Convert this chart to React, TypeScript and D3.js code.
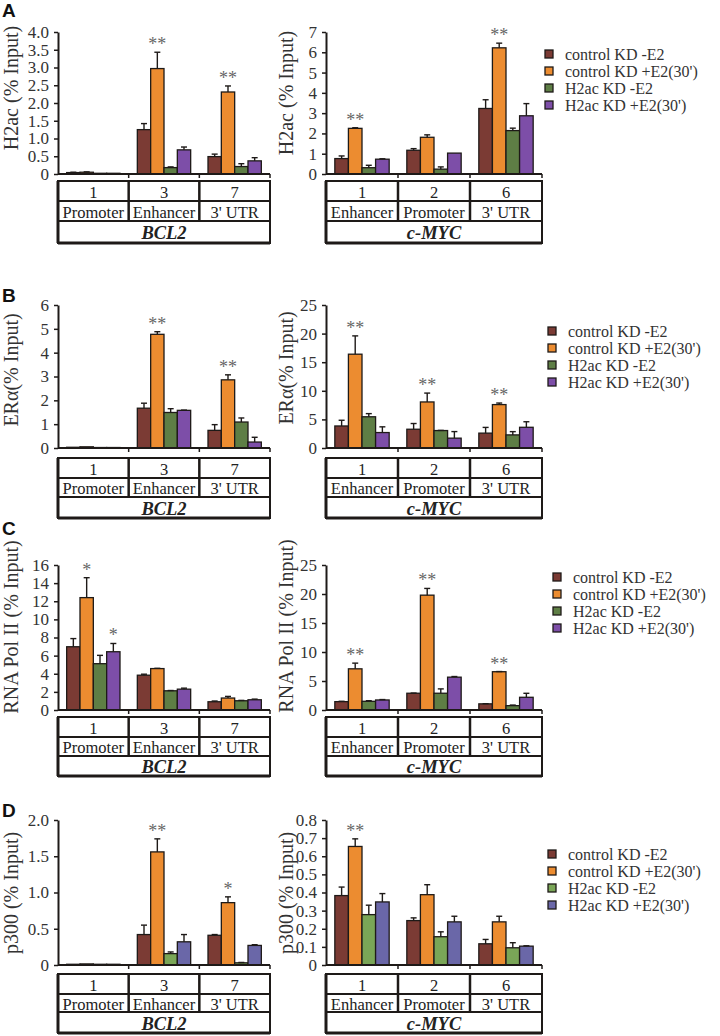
import React, { useEffect, useRef } from "react";
import * as d3 from "d3";

const series = ["control KD -E2", "control KD +E2(30')", "H2ac KD -E2", "H2ac KD +E2(30')"];

const bcl2Sites = ["1", "3", "7"];
const bcl2Regions = ["Promoter", "Enhancer", "3' UTR"];
const mycSites = ["1", "2", "6"];
const mycRegions = ["Enhancer", "Promoter", "3' UTR"];

// A: H2ac
const h2acBcl2 = [[0.04, 0.05, 0.02, 0.02], [1.25, 2.97, 0.18, 0.68], [0.49, 2.31, 0.21, 0.37]];
const h2acBcl2Sd = [[0.01, 0.01, 0, 0], [0.17, 0.46, 0.02, 0.08], [0.07, 0.17, 0.08, 0.09]];
const h2acBcl2Stars = [["", "", "", ""], ["", "**", "", ""], ["", "**", "", ""]];
const h2acMyc = [[0.76, 2.25, 0.31, 0.73], [1.17, 1.81, 0.24, 1.03], [3.23, 6.22, 2.14, 2.87]];
const h2acMycSd = [[0.13, 0.03, 0.12, 0.02], [0.08, 0.12, 0.11, 0], [0.43, 0.23, 0.12, 0.6]];
const h2acMycStars = [["", "**", "", ""], ["", "", "", ""], ["", "**", "", ""]];
const h2acBcl2Ticks = [0, 0.5, 1, 1.5, 2, 2.5, 3, 3.5, 4];
const h2acMycTicks = [0, 1, 2, 3, 4, 5, 6, 7];

// B: ERalpha
const eraBcl2 = [[0.03, 0.05, 0.02, 0.02], [1.67, 4.77, 1.49, 1.58], [0.74, 2.86, 1.09, 0.25]];
const eraBcl2Sd = [[0, 0, 0, 0], [0.21, 0.11, 0.16, 0.01], [0.24, 0.21, 0.17, 0.2]];
const eraBcl2Stars = [["", "", "", ""], ["", "**", "", ""], ["", "**", "", ""]];
const eraMyc = [[3.85, 16.4, 5.46, 2.7], [3.28, 8.05, 3.05, 1.72], [2.6, 7.59, 2.29, 3.62]];
const eraMycSd = [[1.0, 3.2, 0.55, 1.0], [1.0, 1.55, 0.03, 1.15], [1.0, 0.27, 0.57, 0.97]];
const eraMycStars = [["", "**", "", ""], ["", "**", "", ""], ["", "**", "", ""]];
const eraBcl2Ticks = [0, 1, 2, 3, 4, 5, 6];
const eraMycTicks = [0, 5, 10, 15, 20, 25];

// C: RNA Pol II
const polBcl2 = [[6.98, 12.4, 5.11, 6.43], [3.84, 4.57, 2.12, 2.3], [0.91, 1.32, 1.02, 1.13]];
const polBcl2Sd = [[0.9, 2.2, 0.92, 0.91], [0.11, 0.03, 0.03, 0.11], [0.08, 0.18, 0.04, 0.07]];
const polBcl2Stars = [["", "*", "", "*"], ["", "", "", ""], ["", "", "", ""]];
const polMyc = [[1.44, 7.1, 1.5, 1.73], [2.89, 19.8, 2.89, 5.66], [1.06, 6.6, 0.75, 2.19]];
const polMycSd = [[0.06, 0.98, 0.1, 0.07], [0.03, 1.16, 0.75, 0.11], [0.03, 0.03, 0.1, 0.69]];
const polMycStars = [["", "**", "", ""], ["", "**", "", ""], ["", "**", "", ""]];
const polBcl2Ticks = [0, 2, 4, 6, 8, 10, 12, 14, 16];
const polMycTicks = [0, 5, 10, 15, 20, 25];

// D: p300
const p300Bcl2 = [[0.01, 0.015, 0.01, 0.01], [0.42, 1.56, 0.157, 0.32], [0.41, 0.86, 0.03, 0.27]];
const p300Bcl2Sd = [[0, 0, 0, 0], [0.13, 0.18, 0.023, 0.1], [0.01, 0.08, 0.005, 0.01]];
const p300Bcl2Stars = [["", "", "", ""], ["", "**", "", ""], ["", "*", "", ""]];
const p300Myc = [[0.383, 0.654, 0.278, 0.348], [0.245, 0.388, 0.156, 0.238], [0.117, 0.238, 0.095, 0.104]];
const p300MycSd = [[0.047, 0.042, 0.052, 0.046], [0.015, 0.055, 0.027, 0.031], [0.024, 0.031, 0.028, 0.002]];
const p300MycStars = [["", "**", "", ""], ["", "", "", ""], ["", "", "", ""]];
const p300Bcl2Ticks = [0, 0.5, 1, 1.5, 2];
const p300MycTicks = [0, 0.1, 0.2, 0.3, 0.4, 0.5, 0.6, 0.7, 0.8];

const colorsABC = ["#7b3b34", "#ec8c30", "#5e7e45", "#7d4ea8"];
const colorsD = ["#7b3b34", "#ec8c30", "#7aa657", "#6a67a8"];

const serif = "'Liberation Serif', 'Times New Roman', serif";
const sans = "'Liberation Sans', Arial, sans-serif";
const ink = "#1e1a18";

const fmt1 = (d: number) => (d === 0 ? "0" : d.toFixed(1));
const fmt0 = (d: number) => String(d);

function YAxis({ scale, ticks, fmt, x }: any) {
  const ref = useRef<SVGGElement>(null);
  useEffect(() => {
    const g = d3.select(ref.current);
    g.call(
      d3.axisLeft(scale).tickValues(ticks).tickFormat(fmt).tickSize(4).tickSizeOuter(0).tickPadding(5) as any
    );
    g.attr("font-family", null).attr("font-size", null);
    g.select(".domain").attr("stroke", ink).attr("stroke-width", 2);
    g.selectAll(".tick line").attr("stroke", ink).attr("stroke-width", 1.5);
    g.selectAll(".tick text")
      .attr("font-family", serif)
      .attr("font-size", 17)
      .attr("fill", "#333");
  });
  return <g ref={ref} transform={`translate(${x},0)`} />;
}

function Panel(p: any) {
  const { x0, width, top, zero, rows, sites, regions, gene, means, sds, stars, ticks, fmt, ylabel, lx, ly, colors } = p;
  const y = d3.scaleLinear().domain([0, ticks[ticks.length - 1]]).range([zero, top]);
  const xc = d3.scaleBand().domain(sites).range([x0, x0 + width]);
  const xs = d3.scaleBand().domain(series).range([0, xc.bandwidth()]).paddingOuter(0.65);
  const bw = xs.bandwidth();
  const bounds = sites.map((s: string) => (xc(s) as number) + xc.bandwidth());
  return (
    <g>
      <text
        transform={`translate(${lx},${ly}) rotate(-90)`}
        textAnchor="middle"
        dominantBaseline="central"
        fontFamily={serif}
        fontSize={20}
        fill="#333"
      >
        {ylabel}
      </text>
      {sites.map((s: string, i: number) =>
        series.map((sr, j) => {
          const v = means[i][j];
          const e = sds[i][j];
          const bx = (xc(s) as number) + (xs(sr) as number);
          const cx = bx + bw / 2;
          const yt = y(v);
          const ye = y(v + e);
          return (
            <g key={s + j}>
              <rect x={bx} y={yt} width={bw} height={zero - yt} fill={colors[j]} stroke={ink} strokeWidth={1.3} />
              {e > 0 && (
                <g stroke={ink} strokeWidth={1.4}>
                  <line x1={cx} x2={cx} y1={yt} y2={ye} />
                  <line x1={cx - 3} x2={cx + 3} y1={ye} y2={ye} />
                </g>
              )}
              {stars[i][j] && (
                <text x={cx} y={ye - 2} textAnchor="middle" fontFamily={serif} fontSize={18} fill="#666">
                  {stars[i][j]}
                </text>
              )}
            </g>
          );
        })
      )}
      <line x1={x0} x2={x0 + width} y1={zero} y2={zero} stroke={ink} strokeWidth={2} />
      {bounds.map((b: number) => (
        <line key={b} x1={b} x2={b} y1={zero} y2={zero + 4} stroke={ink} strokeWidth={1.5} />
      ))}
      <YAxis scale={y} ticks={ticks} fmt={fmt} x={x0} />
      {/* table */}
      <g stroke={ink} fill="none">
        <rect x={x0} y={rows[0]} width={width} height={rows[3] - rows[0]} strokeWidth={2} />
        <line x1={x0} x2={x0} y1={rows[0]} y2={rows[3]} strokeWidth={3} />
        <line x1={x0} x2={x0 + width} y1={rows[3]} y2={rows[3]} strokeWidth={3} />
        <line x1={x0} x2={x0 + width} y1={rows[1]} y2={rows[1]} strokeWidth={2} />
        <line x1={x0} x2={x0 + width} y1={rows[2]} y2={rows[2]} strokeWidth={2} />
        {bounds.slice(0, -1).map((b: number) => (
          <line key={b} x1={b} x2={b} y1={rows[0]} y2={rows[2]} strokeWidth={2.5} />
        ))}
      </g>
      {sites.map((s: string, i: number) => {
        const cx = (xc(s) as number) + xc.bandwidth() / 2;
        return (
          <g key={"t" + s} fontFamily={serif} fontSize={16.5} fill="#222" textAnchor="middle">
            <text x={cx} y={(rows[0] + rows[1]) / 2 + 1} dominantBaseline="central">{s}</text>
            <text x={cx} y={(rows[1] + rows[2]) / 2 + 1} dominantBaseline="central">{regions[i]}</text>
          </g>
        );
      })}
      <text
        x={x0 + width / 2}
        y={(rows[2] + rows[3]) / 2 + 1}
        dominantBaseline="central"
        textAnchor="middle"
        fontFamily={serif}
        fontWeight="bold"
        fontStyle="italic"
        fontSize={18.5}
        fill="#222"
      >
        {gene}
      </text>
    </g>
  );
}

function Legend({ x, y0, colors }: any) {
  const step = 17;
  return (
    <g>
      {series.map((s, i) => (
        <g key={s}>
          <rect x={x} y={y0 + i * step - 4} width={8} height={8} fill={colors[i]} stroke={ink} strokeWidth={1.3} />
          <text x={x + 20} y={y0 + i * step} dominantBaseline="central" fontFamily={serif} fontSize={16} fill="#333">
            {s}
          </text>
        </g>
      ))}
    </g>
  );
}

export default function App() {
  const L = 58;
  const R = 326;
  const WL = 212;
  const WR = 216;
  const rowsDef = [
    { letter: "A", ly: 17, top: 32, zero: 174, table: [181, 201, 221, 243], legX: 545, legY: 54 },
    { letter: "B", ly: 302, top: 305, zero: 448, table: [458, 478, 497, 518], legX: 548, legY: 331 },
    { letter: "C", ly: 535, top: 565, zero: 710, table: [717, 737, 756, 776], legX: 553, legY: 577 },
    { letter: "D", ly: 817, top: 820, zero: 965, table: [974, 994, 1012, 1033], legX: 548, legY: 854 },
  ];
  const panels = [
    [
      { means: h2acBcl2, sds: h2acBcl2Sd, stars: h2acBcl2Stars, ticks: h2acBcl2Ticks, fmt: fmt1, ylabel: "H2ac (% Input)", ly: 88 },
      { means: h2acMyc, sds: h2acMycSd, stars: h2acMycStars, ticks: h2acMycTicks, fmt: fmt0, ylabel: "H2ac (% Input)", ly: 93 },
    ],
    [
      { means: eraBcl2, sds: eraBcl2Sd, stars: eraBcl2Stars, ticks: eraBcl2Ticks, fmt: fmt0, ylabel: "ERα(% Input)", ly: 370 },
      { means: eraMyc, sds: eraMycSd, stars: eraMycStars, ticks: eraMycTicks, fmt: fmt0, ylabel: "ERα(% Input)", ly: 368 },
    ],
    [
      { means: polBcl2, sds: polBcl2Sd, stars: polBcl2Stars, ticks: polBcl2Ticks, fmt: fmt0, ylabel: "RNA Pol II (% Input)", ly: 627 },
      { means: polMyc, sds: polMycSd, stars: polMycStars, ticks: polMycTicks, fmt: fmt0, ylabel: "RNA Pol II (% Input)", ly: 626 },
    ],
    [
      { means: p300Bcl2, sds: p300Bcl2Sd, stars: p300Bcl2Stars, ticks: p300Bcl2Ticks, fmt: fmt1, ylabel: "p300 (% Input)", ly: 893 },
      { means: p300Myc, sds: p300MycSd, stars: p300MycStars, ticks: p300MycTicks, fmt: fmt1, ylabel: "p300 (% Input)", ly: 893 },
    ],
  ];
  return (
    <svg width={720} height={1036} style={{ position: "absolute", left: 0, top: 0, background: "#fff" }}>
      <rect width={720} height={1036} fill="#fff" />
      {rowsDef.map((r, i) => {
        const colors = i === 3 ? colorsD : colorsABC;
        const [pl, pr] = panels[i];
        return (
          <g key={r.letter}>
            <text x={2} y={r.ly} fontFamily={sans} fontWeight="bold" fontSize={19} fill="#111">
              {r.letter}
            </text>
            <Panel
              {...pl}
              x0={L}
              width={WL}
              top={r.top}
              zero={r.zero}
              rows={r.table}
              sites={bcl2Sites}
              regions={bcl2Regions}
              gene="BCL2"
              lx={11}
              colors={colors}
            />
            <Panel
              {...pr}
              x0={R}
              width={WR}
              top={r.top}
              zero={r.zero}
              rows={r.table}
              sites={mycSites}
              regions={mycRegions}
              gene="c-MYC"
              lx={286}
              colors={colors}
            />
            <Legend x={r.legX} y0={r.legY} colors={colors} />
          </g>
        );
      })}
    </svg>
  );
}
